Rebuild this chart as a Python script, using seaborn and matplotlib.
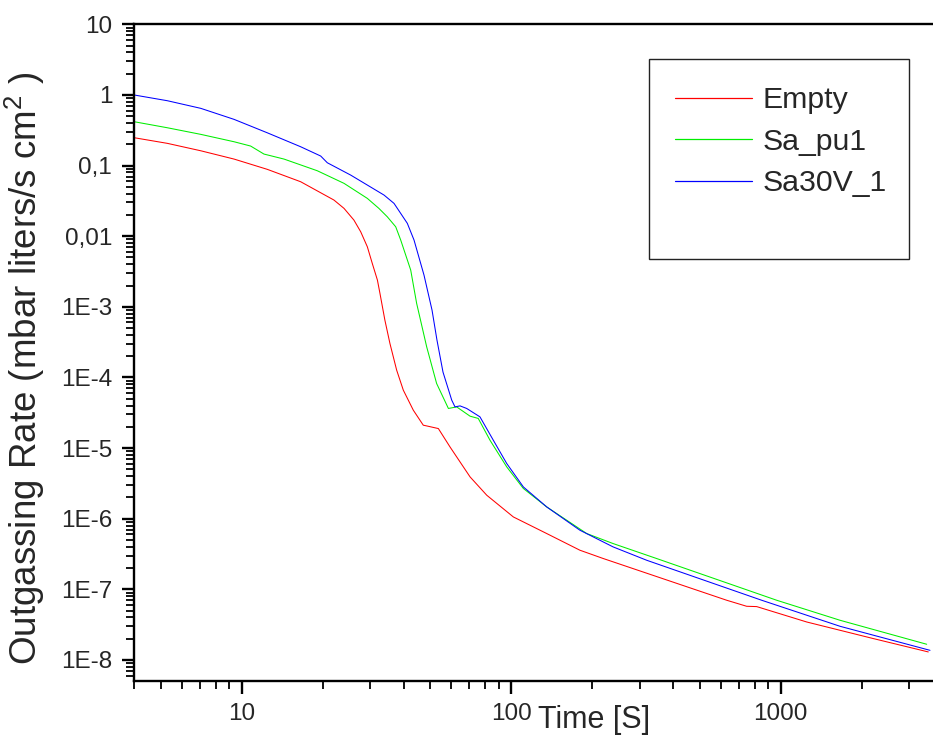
import numpy as np
import pandas as pd
import matplotlib
matplotlib.use("Agg")
import matplotlib.pyplot as plt
import matplotlib.ticker as mticker
from matplotlib.patches import Rectangle
import seaborn as sns

# ---- data ----
empty_t = [4.0, 5.3, 7.05, 9.37, 12.45, 16.56, 22.0, 23.98, 26.1, 27.66, 29.27, 30.53, 31.9,
           32.6, 34.0, 35.5, 37.6, 39.8, 43.35, 47.2, 48.6, 53.7, 59.3, 70.4, 81.2, 101.9,
           135.5, 180, 219.8, 630.8, 748, 815, 1250, 2207, 3531]
empty_r = [0.2476, 0.2063, 0.162, 0.1236, 0.0884, 0.059, 0.0325, 0.02477, 0.0169, 0.01154,
           0.00708, 0.00412, 0.00239, 0.00155, 6.49e-4, 3.03e-4, 1.27e-4, 6.61e-5, 3.44e-5,
           2.11e-5, 2.06e-5, 1.89e-5, 1.04e-5, 3.91e-6, 2.15e-6, 1.06e-6, 6.17e-7, 3.58e-7,
           2.73e-7, 7.01e-8, 5.76e-8, 5.7e-8, 3.45e-8, 2.01e-8, 1.30e-8]

pu1_t = [4.0, 5.3, 7.05, 9.37, 10.8, 12.1, 14.36, 19.09, 23.98, 29.27, 32.3, 34.71, 37.3,
         38.93, 42.4, 44.6, 48.6, 52.9, 58.5, 62.8, 70.4, 75.5, 83.5, 96.3, 111, 135.5, 190.7,
         239, 346.8, 967, 1661, 3483]
pu1_r = [0.417, 0.343, 0.2766, 0.2174, 0.1889, 0.1455, 0.1236, 0.0844, 0.056, 0.0343, 0.02477,
         0.01883, 0.01359, 0.00881, 0.00331, 0.00112, 2.71e-4, 8.22e-5, 3.64e-5, 3.83e-5,
         2.83e-5, 2.63e-5, 1.29e-5, 5.42e-6, 2.68e-6, 1.47e-6, 6.17e-7, 4.45e-7, 2.73e-7,
         7.01e-8, 3.65e-8, 1.67e-8]

v30_t = [4.0, 5.3, 7.05, 9.37, 12.45, 16.56, 19.65, 20.79, 25.39, 33.76, 36.76, 38.93, 41.19,
         43.62, 47.5, 50.87, 53.06, 55.87, 60.2, 61.9, 64.6, 68.4, 76.6, 85.9, 96.3, 111,
         135.5, 180, 239, 318.6, 850.5, 1661, 3583]
v30_r = [0.997, 0.828, 0.646, 0.451, 0.291, 0.1846, 0.1364, 0.1096, 0.0733, 0.0382, 0.02915,
         0.021, 0.0152, 0.00881, 0.00281, 8.98e-4, 3.38e-4, 1.19e-4, 4.77e-5, 3.83e-5, 3.96e-5,
         3.64e-5, 2.77e-5, 1.29e-5, 6.05e-6, 2.82e-6, 1.47e-6, 6.87e-7, 3.99e-7, 2.58e-7,
         7.01e-8, 3.0e-8, 1.37e-8]

series_names = ["Empty", "Sa_pu1", "Sa30V_1"]
series_colors = ["#ff0000", "#00ee00", "#0000ff"]

y_ticks = [1e-8, 1e-7, 1e-6, 1e-5, 1e-4, 1e-3, 1e-2, 1e-1, 1, 10]
y_tick_labels = ["1E-8", "1E-7", "1E-6", "1E-5", "1E-4", "1E-3", "0,01", "0,1", "1", "10"]
x_ticks = [10, 100, 1000]
x_tick_labels = ["10", "100", "1000"]

frames = []
for name, t, r in zip(series_names, [empty_t, pu1_t, v30_t], [empty_r, pu1_r, v30_r]):
    frames.append(pd.DataFrame({"Time": t, "Rate": r, "Series": name}))
df = pd.concat(frames, ignore_index=True)

sns.set_style("ticks")
plt.rcParams["font.family"] = ["Liberation Sans", "DejaVu Sans"]
plt.rcParams["mathtext.fontset"] = "custom"
plt.rcParams["mathtext.rm"] = "Liberation Sans"
plt.rcParams["mathtext.it"] = "Liberation Sans"

W, H = 933, 740
fig = plt.figure(figsize=(W / 100, H / 100), dpi=100)
ax = fig.add_axes([134.4 / W, 1 - 680.7 / H, (W - 134.4) / W, (680.7 - 24.3) / H])

sns.lineplot(data=df, x="Time", y="Rate", hue="Series", hue_order=series_names,
             palette=dict(zip(series_names, series_colors)), sort=False, estimator=None,
             units="Series", linewidth=0.75, ax=ax, legend=False)

ax.set_xscale("log")
ax.set_yscale("log")
ax.set_xlim(4, 3676)
ax.set_ylim(5.09e-9, 10)

ax.yaxis.set_major_locator(mticker.FixedLocator(y_ticks))
ax.yaxis.set_major_formatter(mticker.FixedFormatter(y_tick_labels))
ax.yaxis.set_minor_locator(mticker.LogLocator(base=10, subs=np.arange(2, 10), numticks=30))
ax.yaxis.set_minor_formatter(mticker.NullFormatter())
ax.xaxis.set_major_locator(mticker.FixedLocator(x_ticks))
ax.xaxis.set_major_formatter(mticker.FixedFormatter(x_tick_labels))
ax.xaxis.set_minor_locator(mticker.LogLocator(base=10, subs=np.arange(2, 10), numticks=30))
ax.xaxis.set_minor_formatter(mticker.NullFormatter())

for s in ["left", "bottom", "top"]:
    ax.spines[s].set_linewidth(1.7)
    ax.spines[s].set_color("black")
ax.spines["right"].set_visible(False)

ax.tick_params(axis="both", which="major", direction="out", length=9, width=1.7,
               labelsize=17.5, color="black", pad=7)
ax.tick_params(axis="both", which="minor", direction="out", length=5.5, width=1.3, color="black")
ax.tick_params(top=False, right=False, which="both")

ax.set_xlabel("Time [S]", fontsize=22)
ax.xaxis.set_label_coords(0.576, -0.060)
ax.xaxis.label.set_va("center")
ax.set_ylabel(r"Outgassing Rate (mbar liters/s cm$^{2}$ )", fontsize=26.5)
ax.yaxis.set_label_coords(-0.137, 0.4756)
ax.yaxis.label.set_va("center")

handles = [plt.Line2D([], [], color=c, lw=0.9) for c in series_colors]
leg = ax.legend(handles, series_names, loc="upper left",
                bbox_to_anchor=(675 / W, 1 - 86.5 / H), bbox_transform=fig.transFigure,
                frameon=False, fontsize=21.8, handlelength=2.55, handletextpad=0.33,
                labelspacing=0.44, borderpad=0, borderaxespad=0)
fig.patches.append(Rectangle((649.3 / W, 1 - 258.7 / H), (908.7 - 649.3) / W,
                             (258.7 - 59.3) / H, transform=fig.transFigure,
                             fill=False, edgecolor="#222222", linewidth=1.0))

fig.savefig("out.png", dpi=100)
